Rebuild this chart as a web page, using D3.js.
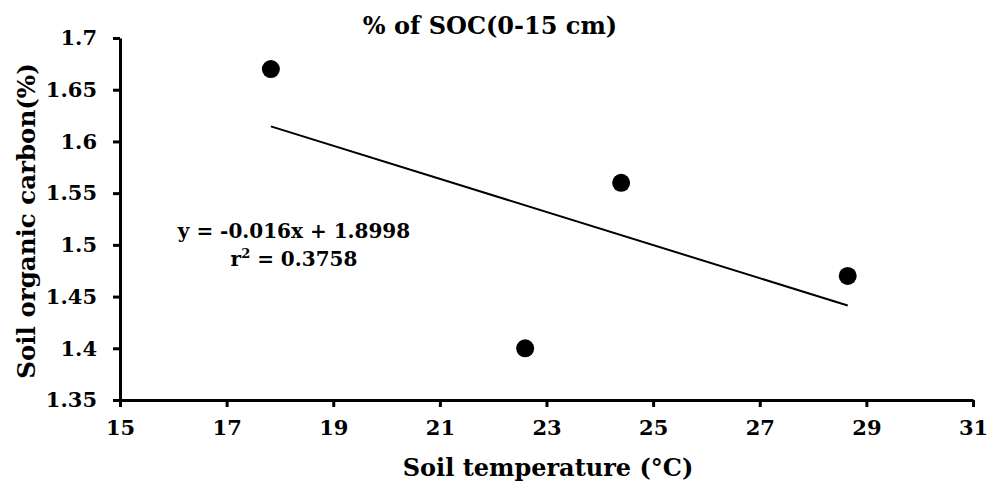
<!DOCTYPE html>
<html><head><meta charset="utf-8">
<script src="https://cdn.jsdelivr.net/npm/d3@7"></script>
<style>body{margin:0;background:#fff}</style>
</head><body>
<svg id="c" width="992" height="488"></svg>
<script>
const temps = [17.83, 22.6, 24.4, 28.65];
const soc = [1.67, 1.40, 1.56, 1.47];
const xTicks = [15, 17, 19, 21, 23, 25, 27, 29, 31];
const yTicks = [1.35, 1.4, 1.45, 1.5, 1.55, 1.6, 1.65, 1.7];
const slope = -0.016, intercept = 1.8998;
const eqText = "y = -0.016x + 1.8998";
const r2Text = "0.3758";

const font = "'DejaVu Serif', serif";
const svg = d3.select("#c");
const x = d3.scaleLinear().domain([15, 31]).range([120, 973]);
const y = d3.scaleLinear().domain([1.35, 1.7]).range([400, 38]);

const xa = svg.append("g").attr("transform", "translate(0,400)")
  .call(d3.axisBottom(x).tickValues(xTicks).tickSize(7).tickSizeOuter(0).tickPadding(13).tickFormat(d3.format("d")));
const ya = svg.append("g").attr("transform", "translate(120,0)")
  .call(d3.axisLeft(y).tickValues(yTicks).tickSize(7).tickSizeOuter(0).tickPadding(16).tickFormat(d => String(+d.toFixed(2))));
[xa, ya].forEach(a => {
  a.attr("font-size", 21).attr("font-family", font);
  a.selectAll("path,line").attr("stroke", "#000").attr("stroke-width", 3);
  a.selectAll("text").attr("font-family", font).attr("font-weight", "bold").attr("font-size", 21).attr("fill", "#000");
});

const xmin = d3.min(temps), xmax = d3.max(temps);
svg.append("line")
  .attr("x1", x(xmin)).attr("y1", y(slope * xmin + intercept))
  .attr("x2", x(xmax)).attr("y2", y(slope * xmax + intercept))
  .attr("stroke", "#000").attr("stroke-width", 2);

svg.selectAll("circle.p").data(temps).join("circle")
  .attr("cx", d => x(d)).attr("cy", (d, i) => y(soc[i])).attr("r", 9).attr("fill", "#000");

svg.append("text").attr("x", 294).attr("y", 238).attr("text-anchor", "middle")
  .attr("font-family", font).attr("font-weight", "bold").attr("font-size", 20).text(eqText);
const t2 = svg.append("text").attr("x", 294).attr("y", 266).attr("text-anchor", "middle")
  .attr("font-family", font).attr("font-weight", "bold").attr("font-size", 20);
t2.append("tspan").text("r");
t2.append("tspan").attr("font-size", 13).attr("dy", -8).text("2");
t2.append("tspan").attr("dy", 8).text(" = " + r2Text);

svg.append("text").attr("x", 490).attr("y", 34).attr("text-anchor", "middle")
  .attr("font-family", font).attr("font-weight", "bold").attr("font-size", 24).text("% of SOC(0-15 cm)");
svg.append("text").attr("x", 548).attr("y", 476).attr("text-anchor", "middle")
  .attr("font-family", font).attr("font-weight", "bold").attr("font-size", 24).text("Soil temperature (°C)");
svg.append("text").attr("transform", "translate(35,221) rotate(-90)").attr("text-anchor", "middle")
  .attr("font-family", font).attr("font-weight", "bold").attr("font-size", 24.5).text("Soil organic carbon(%)");
</script>
</body></html>
